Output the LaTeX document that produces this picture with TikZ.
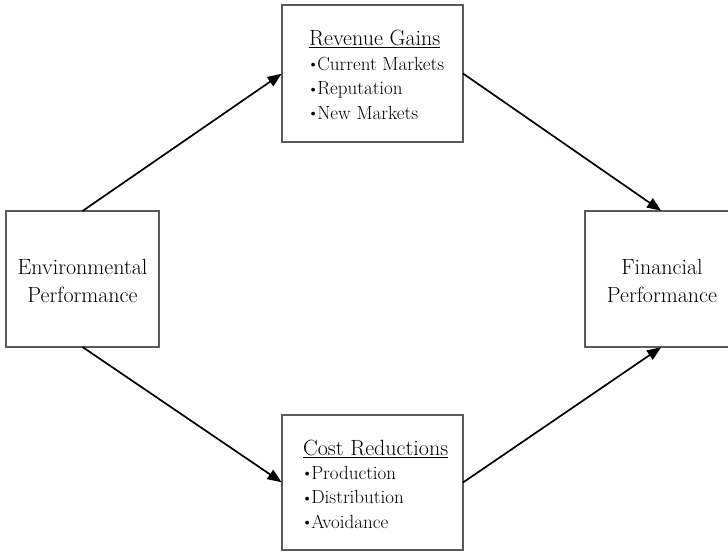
\documentclass[tikz,border=0pt]{standalone}
\usetikzlibrary{arrows.meta}
\definecolor{boxgray}{HTML}{5A5A5A}
\newcommand\mybul{\kern-1.4pt\raisebox{1.3pt}{\fontsize{14}{14}\selectfont\textbullet}\kern-1.2pt}
\begin{document}
\begin{tikzpicture}[x=1pt,y=-1pt,
  blk/.style={draw=boxgray,line width=1.6pt,inner sep=0pt,outer sep=0pt},
  arr/.style={draw=black,line width=1.7pt,-{Triangle[length=14pt,width=11pt]},shorten >=0.5pt},
  bigtext/.style={font=\fontsize{22}{28}\selectfont,align=center},
  listtext/.style={align=left,inner sep=0pt},
  headf/.style={font=\fontsize{22}{24.5}\selectfont},
  itemf/.style={font=\fontsize{19}{24.5}\selectfont}
]
\useasboundingbox (0,0) rectangle (728,552);
% boxes
\node[blk,minimum width=153pt,minimum height=136pt] (env) at (82.5,279) {};
\node[blk,minimum width=153pt,minimum height=136pt] (fin) at (661.5,279) {};
\node[blk,minimum width=181pt,minimum height=137pt] (rev) at (372.5,73.5) {};
\node[blk,minimum width=181pt,minimum height=135pt] (cost) at (372.5,482.5) {};
% texts
\node[bigtext] (envt) at (82.5,281) {Environmental\\Performance};
\node[bigtext] (fint) at (662,281) {Financial\\Performance};
\node[listtext,headf,anchor=base west] (revh) at (309,45) {\underline{Revenue Gains}};
\node[listtext,itemf,anchor=base west] (rev1) at (309,70) {\mybul Current Markets};
\node[listtext,itemf,anchor=base west] (rev2) at (309,94.5) {\mybul Reputation};
\node[listtext,itemf,anchor=base west] (rev3) at (309,119) {\mybul New Markets};
\node[listtext,headf,anchor=base west] (costh) at (303,455) {\underline{Cost Reductions}};
\node[listtext,itemf,anchor=base west] (cost1) at (303,479) {\mybul Production};
\node[listtext,itemf,anchor=base west] (cost2) at (303,503.5) {\mybul Distribution};
\node[listtext,itemf,anchor=base west] (cost3) at (303,528) {\mybul Avoidance};
% arrows
\draw[arr] (env.north) -- (rev.west);
\draw[arr] (rev.east) -- (fin.north);
\draw[arr] (env.south) -- (cost.west);
\draw[arr] (cost.east) -- (fin.south);
\end{tikzpicture}
\end{document}
